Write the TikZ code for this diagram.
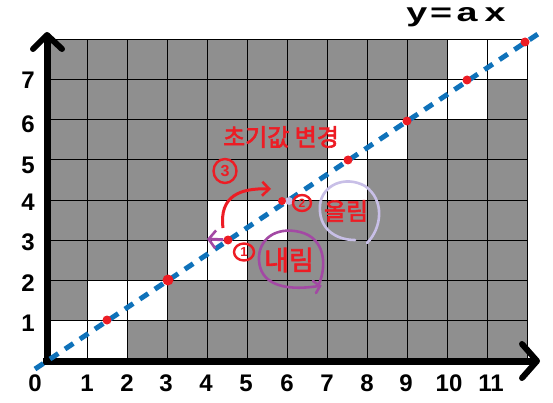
\documentclass[tikz,border=0pt]{standalone}
\usepackage{fontspec}
\setmainfont{Liberation Sans}
\newfontfamily\kr[AutoFakeBold=2.5]{Noto Sans CJK KR}
\usetikzlibrary{arrows.meta}
\definecolor{pred}{HTML}{ED1C24}
\definecolor{pblue}{HTML}{0F72BA}
\definecolor{ppurple}{HTML}{A349A4}
\definecolor{plav}{HTML}{C8BFE7}
\definecolor{pgray}{HTML}{8F8F8F}
\tikzset{
  axisline/.style={line width=7pt},
  chevron/.style={line width=6pt, line cap=round, line join=round},
  gridline/.style={line width=1pt, black},
  numlabel/.style={font=\bfseries\fontsize{24}{24}\selectfont, inner sep=0pt},
  rdot/.style={circle, fill=pred, minimum size=9pt, inner sep=0pt},
  redtxt/.style={text=pred, inner sep=0pt},
  circnum/.style={draw=pred, line width=2.4pt, ellipse, inner sep=0pt, text=pred},
  redarrow/.style={draw=pred, line width=3pt, -{Straight Barb[length=7pt,width=14pt,line width=2.6pt]}},
  purparrow/.style={draw=ppurple, line width=3pt, -{Straight Barb[length=7pt,width=18pt,line width=2.6pt]}},
}
\usetikzlibrary{shapes.geometric}
\begin{document}
\begin{tikzpicture}[x=1pt,y=-1pt]
\useasboundingbox (0,0) rectangle (553,403);
\fill[white] (0,0) rectangle (553,403);
% grid
\fill[pgray] (47,40) rectangle (527,360);
\foreach \c/\r in {0/0,1/0,1/1,2/1,3/2,4/2,4/3,5/3,6/4,7/4,7/5,8/5,9/6,10/6,10/7,11/7}
  \fill[white] ({47+40*\c},{360-40*\r}) rectangle ++(40,-40);
\foreach \i in {0,...,12} \draw[gridline] ({47+40*\i},40) -- ({47+40*\i},360);
\foreach \j in {0,...,8} \draw[gridline] (47,{40+40*\j}) -- (527,{40+40*\j});
% axes
\coordinate (ytop) at (47,36);
\coordinate (ybot) at (47,365);
\coordinate (xl) at (43,361);
\coordinate (xr) at (536,361);
\draw[axisline] (ybot) -- (ytop);
\draw[axisline] (xl) -- (xr);
\draw[chevron] (33,49) -- (47,35) -- (62,49);
\draw[chevron] (522,344) -- (537,361) -- (522,378);
% dashed line
\coordinate (ls) at (35,369);
\coordinate (le) at (541,32);
\draw[pblue, line width=5pt, dash pattern=on 10pt off 8pt] (ls) -- (le);
% labels
\foreach \n/\x in {0/35,1/87,2/127,3/166,4/206,5/246,6/287,7/327,8/367,9/406,10/449,11/491}
  \node[numlabel] (xl\n) at (\x,383) {\n};
\foreach \n/\y in {1/323,2/283,3/242,4/202,5/165,6/124,7/80}
  \node[numlabel] (yl\n) at (28,\y) {\n};
\node[inner sep=0pt, font=\bfseries\fontsize{26}{26}\selectfont] (title) at (456,17) {\scalebox{1.45}[1]{y\kern2pt=\kern3pt a\kern5pt x}};
% dots
\node[rdot] (d1) at (107,320) {};
\node[rdot, minimum size=11pt] (d2) at (168,280) {};
\node[rdot] (d3) at (228,240) {};
\node[circle, fill=plav, minimum size=8pt, inner sep=0pt] (d4b) at (289,201) {};
\node[rdot, minimum size=8pt] (d4) at (282,201) {};
\node[rdot] (d5) at (348,160) {};
\node[rdot] (d6) at (407,121) {};
\node[rdot] (d7) at (467,80) {};
\node[rdot] (d8) at (525,42) {};
% annotations
\node[redtxt, font=\kr\bfseries\fontsize{24}{24}\selectfont] (chg) at (281,137) {초기값 변경};
\node[circnum, minimum width=23pt, minimum height=24pt, font=\bfseries\fontsize{16}{16}\selectfont] (c3) at (225,171) {3};
\node[circnum, minimum width=20pt, minimum height=17pt, font=\bfseries\fontsize{13}{13}\selectfont] (c1) at (244,252) {1};
\node[circnum, minimum width=18pt, minimum height=16pt, font=\bfseries\fontsize{12}{12}\selectfont] (c2) at (302,203) {2};
\node[redtxt, font=\kr\bfseries\fontsize{27}{27}\selectfont] (down) at (289,260) {내림};
\node[redtxt, font=\kr\bfseries\fontsize{24}{24}\selectfont] (up) at (346,211) {올림};
\coordinate (arcstart) at (223,228);
\coordinate (arcend) at (271,189);
\draw[redarrow] (arcstart) .. controls (219,196) and (240,188) .. (arcend);
\coordinate (pend) at (207,239);
\draw[purparrow] (d3) -- (pend);
% circles
\draw[ppurple, line width=2.6pt] (319,284) .. controls (327,265) and (325,238) .. (300,232)
  .. controls (275,226) and (258,240) .. (259,260)
  .. controls (260,282) and (280,292) .. (319,286);
\draw[ppurple, line width=2.6pt, line cap=round] (313,281) -- (320,286) -- (316,293);
\draw[plav, line width=2.6pt, line cap=round] (367,243) .. controls (382,228) and (385,200) .. (365,186)
  .. controls (345,175) and (322,185) .. (320,205)
  .. controls (318,228) and (335,240) .. (355,240);
\end{tikzpicture}
\end{document}
